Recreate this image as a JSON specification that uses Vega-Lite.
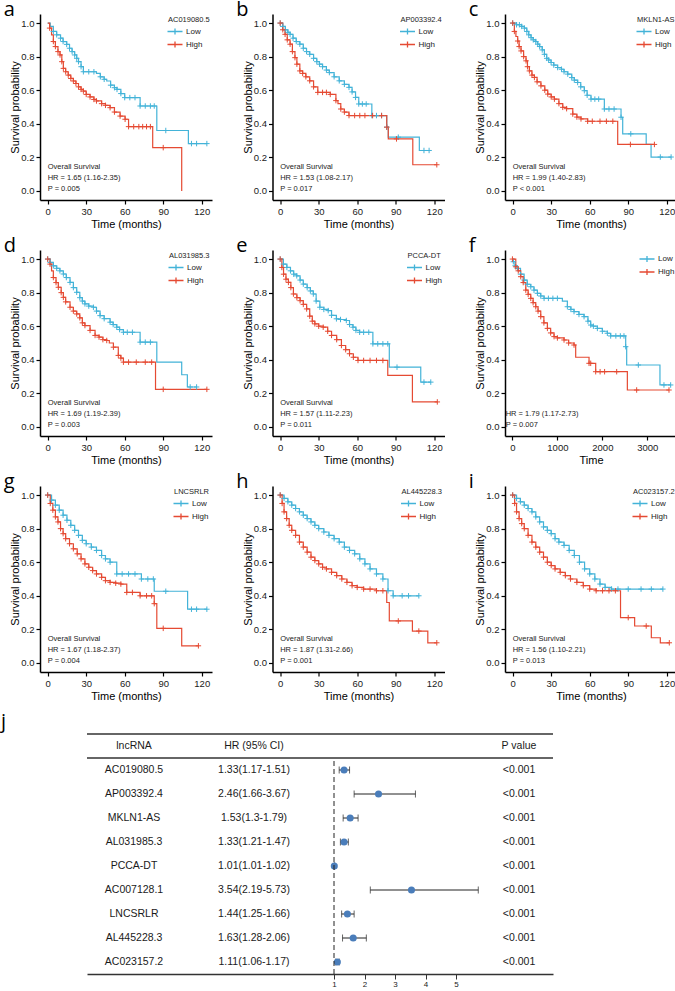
{
"$schema":"https://vega.github.io/schema/vega-lite/v6.json",
"padding":{"left":1,"top":0,"right":0,"bottom":0},
"background":"white",
"config":{
 "font":"Liberation Sans",
 "view":{"stroke":null},
 "axis":{"domainColor":"#000","domainWidth":1.5,"tickColor":"#000","tickWidth":1.2,"tickSize":4,"tickCount":12,"labelFontSize":9.5,"labelColor":"#1a1a1a","labelPadding":2,"labelOverlap":false,"titleFontSize":11,"titleFontWeight":"normal","titleColor":"#000","grid":false,"labelFont":"Liberation Sans","titleFont":"Liberation Sans"},
 "axisX":{"titlePadding":3,"labelFlush":false},
 "axisY":{"titlePadding":0},
 "legend":{"orient":"top-right","offset":2,"symbolType":"M-1.25,0H1.25M0,-0.5V0.5","symbolSize":144,"symbolStrokeWidth":1.3,"labelFontSize":8,"titleFontSize":7.5,"titleFontWeight":"normal","titleFont":"Liberation Sans","labelFont":"Liberation Sans","rowPadding":-1,"titlePadding":1,"padding":0,"labelColor":"#222","titleColor":"#222"},
 "title":{"anchor":"start","frame":"bounds","fontSize":20,"fontWeight":"normal","font":"Open Sans","offset":-6,"dx":-6,"color":"#000"}
},
"datasets":{
"notes":[
{"p":"a","note":["Overall Survival","HR = 1.65 (1.16-2.35)","P = 0.005"]},
{"p":"b","note":["Overall Survival","HR = 1.53 (1.08-2.17)","P = 0.017"]},
{"p":"c","note":["Overall Survival","HR = 1.99 (1.40-2.83)","P < 0.001"]},
{"p":"d","note":["Overall Survival","HR = 1.69 (1.19-2.39)","P = 0.003"]},
{"p":"e","note":["Overall Survival","HR = 1.57 (1.11-2.23)","P = 0.011"]},
{"p":"f","note":["HR = 1.79 (1.17-2.73)","P = 0.007"]},
{"p":"g","note":["Overall Survival","HR = 1.67 (1.18-2.37)","P = 0.004"]},
{"p":"h","note":["Overall Survival","HR = 1.87 (1.31-2.66)","P = 0.001"]},
{"p":"i","note":["Overall Survival","HR = 1.56 (1.10-2.21)","P = 0.013"]}
],
"forest":[
{"name":"header","label":"lncRNA","ci":"HR (95% CI)","pv":"P value"},
{"name":"AC019080.5","label":"AC019080.5","hr":1.33,"lo":1.17,"hi":1.51,"ci":"1.33(1.17-1.51)","pv":"<0.001"},
{"name":"AP003392.4","label":"AP003392.4","hr":2.46,"lo":1.66,"hi":3.67,"ci":"2.46(1.66-3.67)","pv":"<0.001"},
{"name":"MKLN1-AS","label":"MKLN1-AS","hr":1.53,"lo":1.3,"hi":1.79,"ci":"1.53(1.3-1.79)","pv":"<0.001"},
{"name":"AL031985.3","label":"AL031985.3","hr":1.33,"lo":1.21,"hi":1.47,"ci":"1.33(1.21-1.47)","pv":"<0.001"},
{"name":"PCCA-DT","label":"PCCA-DT","hr":1.01,"lo":1.01,"hi":1.02,"ci":"1.01(1.01-1.02)","pv":"<0.001"},
{"name":"AC007128.1","label":"AC007128.1","hr":3.54,"lo":2.19,"hi":5.73,"ci":"3.54(2.19-5.73)","pv":"<0.001"},
{"name":"LNCSRLR","label":"LNCSRLR","hr":1.44,"lo":1.25,"hi":1.66,"ci":"1.44(1.25-1.66)","pv":"<0.001"},
{"name":"AL445228.3","label":"AL445228.3","hr":1.63,"lo":1.28,"hi":2.06,"ci":"1.63(1.28-2.06)","pv":"<0.001"},
{"name":"AC023157.2","label":"AC023157.2","hr":1.11,"lo":1.06,"hi":1.17,"ci":"1.11(1.06-1.17)","pv":"<0.001"}
],
"km":[
{"p":"a","g":"Low","t":0,"s":1,"c":0},{"p":"a","g":"Low","t":2,"s":0.98,"c":0},{"p":"a","g":"Low","t":4.4,"s":0.95,"c":1},{"p":"a","g":"Low","t":7,"s":0.93,"c":1},{"p":"a","g":"Low","t":10,"s":0.91,"c":1},{"p":"a","g":"Low","t":12,"s":0.89,"c":1},{"p":"a","g":"Low","t":14.8,"s":0.873,"c":1},{"p":"a","g":"Low","t":17,"s":0.85,"c":1},{"p":"a","g":"Low","t":19,"s":0.83,"c":1},{"p":"a","g":"Low","t":21,"s":0.81,"c":1},{"p":"a","g":"Low","t":22.6,"s":0.79,"c":1},{"p":"a","g":"Low","t":24,"s":0.77,"c":1},{"p":"a","g":"Low","t":26,"s":0.74,"c":1},{"p":"a","g":"Low","t":27.8,"s":0.71,"c":1},{"p":"a","g":"Low","t":32,"s":0.71,"c":1},{"p":"a","g":"Low","t":36,"s":0.71,"c":1},{"p":"a","g":"Low","t":38,"s":0.7,"c":0},{"p":"a","g":"Low","t":41,"s":0.68,"c":1},{"p":"a","g":"Low","t":44,"s":0.665,"c":1},{"p":"a","g":"Low","t":46,"s":0.655,"c":0},{"p":"a","g":"Low","t":49,"s":0.63,"c":1},{"p":"a","g":"Low","t":52,"s":0.615,"c":1},{"p":"a","g":"Low","t":54,"s":0.605,"c":1},{"p":"a","g":"Low","t":57,"s":0.58,"c":1},{"p":"a","g":"Low","t":60,"s":0.556,"c":1},{"p":"a","g":"Low","t":64,"s":0.556,"c":1},{"p":"a","g":"Low","t":68,"s":0.556,"c":1},{"p":"a","g":"Low","t":72,"s":0.506,"c":1},{"p":"a","g":"Low","t":76,"s":0.506,"c":1},{"p":"a","g":"Low","t":80,"s":0.506,"c":1},{"p":"a","g":"Low","t":83,"s":0.506,"c":1},{"p":"a","g":"Low","t":85,"s":0.36,"c":0},{"p":"a","g":"Low","t":92,"s":0.36,"c":1},{"p":"a","g":"Low","t":109.6,"s":0.282,"c":0},{"p":"a","g":"Low","t":112,"s":0.282,"c":1},{"p":"a","g":"Low","t":116,"s":0.282,"c":1},{"p":"a","g":"Low","t":124,"s":0.282,"c":1},
{"p":"a","g":"High","t":0,"s":1,"c":0},{"p":"a","g":"High","t":1.5,"s":0.97,"c":1},{"p":"a","g":"High","t":3,"s":0.93,"c":0},{"p":"a","g":"High","t":4.4,"s":0.89,"c":1},{"p":"a","g":"High","t":6,"s":0.86,"c":1},{"p":"a","g":"High","t":8,"s":0.83,"c":1},{"p":"a","g":"High","t":9.6,"s":0.81,"c":1},{"p":"a","g":"High","t":11,"s":0.77,"c":1},{"p":"a","g":"High","t":12.2,"s":0.73,"c":1},{"p":"a","g":"High","t":14,"s":0.71,"c":1},{"p":"a","g":"High","t":16,"s":0.69,"c":1},{"p":"a","g":"High","t":18,"s":0.67,"c":1},{"p":"a","g":"High","t":20,"s":0.655,"c":1},{"p":"a","g":"High","t":22,"s":0.64,"c":1},{"p":"a","g":"High","t":24,"s":0.62,"c":1},{"p":"a","g":"High","t":26,"s":0.605,"c":1},{"p":"a","g":"High","t":27.8,"s":0.595,"c":1},{"p":"a","g":"High","t":30,"s":0.575,"c":1},{"p":"a","g":"High","t":33,"s":0.56,"c":1},{"p":"a","g":"High","t":36,"s":0.545,"c":1},{"p":"a","g":"High","t":38,"s":0.536,"c":1},{"p":"a","g":"High","t":42,"s":0.52,"c":1},{"p":"a","g":"High","t":45,"s":0.51,"c":1},{"p":"a","g":"High","t":48.6,"s":0.496,"c":1},{"p":"a","g":"High","t":52,"s":0.47,"c":1},{"p":"a","g":"High","t":56.4,"s":0.446,"c":1},{"p":"a","g":"High","t":60.3,"s":0.427,"c":1},{"p":"a","g":"High","t":63,"s":0.383,"c":1},{"p":"a","g":"High","t":67,"s":0.383,"c":1},{"p":"a","g":"High","t":71,"s":0.383,"c":1},{"p":"a","g":"High","t":74,"s":0.383,"c":1},{"p":"a","g":"High","t":77,"s":0.383,"c":1},{"p":"a","g":"High","t":80,"s":0.383,"c":1},{"p":"a","g":"High","t":81.8,"s":0.258,"c":0},{"p":"a","g":"High","t":90,"s":0.258,"c":1},{"p":"a","g":"High","t":104.4,"s":0,"c":0},
{"p":"b","g":"Low","t":0,"s":1,"c":1},{"p":"b","g":"Low","t":2,"s":0.98,"c":1},{"p":"b","g":"Low","t":4,"s":0.96,"c":1},{"p":"b","g":"Low","t":6,"s":0.945,"c":1},{"p":"b","g":"Low","t":7.7,"s":0.933,"c":1},{"p":"b","g":"Low","t":10,"s":0.91,"c":1},{"p":"b","g":"Low","t":12.5,"s":0.89,"c":1},{"p":"b","g":"Low","t":15.3,"s":0.874,"c":1},{"p":"b","g":"Low","t":18,"s":0.85,"c":1},{"p":"b","g":"Low","t":20.5,"s":0.83,"c":1},{"p":"b","g":"Low","t":23,"s":0.814,"c":1},{"p":"b","g":"Low","t":26,"s":0.79,"c":1},{"p":"b","g":"Low","t":28.5,"s":0.77,"c":1},{"p":"b","g":"Low","t":30.6,"s":0.755,"c":1},{"p":"b","g":"Low","t":33,"s":0.74,"c":1},{"p":"b","g":"Low","t":36,"s":0.72,"c":1},{"p":"b","g":"Low","t":38.3,"s":0.705,"c":1},{"p":"b","g":"Low","t":42,"s":0.68,"c":1},{"p":"b","g":"Low","t":46,"s":0.656,"c":1},{"p":"b","g":"Low","t":50,"s":0.635,"c":1},{"p":"b","g":"Low","t":53.6,"s":0.617,"c":1},{"p":"b","g":"Low","t":56,"s":0.59,"c":1},{"p":"b","g":"Low","t":58.7,"s":0.557,"c":1},{"p":"b","g":"Low","t":61.2,"s":0.518,"c":1},{"p":"b","g":"Low","t":64,"s":0.518,"c":1},{"p":"b","g":"Low","t":67,"s":0.518,"c":1},{"p":"b","g":"Low","t":71.4,"s":0.449,"c":1},{"p":"b","g":"Low","t":75,"s":0.449,"c":1},{"p":"b","g":"Low","t":79,"s":0.449,"c":1},{"p":"b","g":"Low","t":83,"s":0.38,"c":1},{"p":"b","g":"Low","t":84.2,"s":0.32,"c":0},{"p":"b","g":"Low","t":92,"s":0.32,"c":1},{"p":"b","g":"Low","t":108.4,"s":0.241,"c":0},{"p":"b","g":"Low","t":112,"s":0.241,"c":1},{"p":"b","g":"Low","t":116,"s":0.241,"c":1},
{"p":"b","g":"High","t":0,"s":1,"c":1},{"p":"b","g":"High","t":2,"s":0.96,"c":1},{"p":"b","g":"High","t":3.8,"s":0.933,"c":1},{"p":"b","g":"High","t":5.5,"s":0.9,"c":1},{"p":"b","g":"High","t":7.7,"s":0.874,"c":1},{"p":"b","g":"High","t":9.5,"s":0.83,"c":1},{"p":"b","g":"High","t":11.5,"s":0.794,"c":1},{"p":"b","g":"High","t":13,"s":0.755,"c":1},{"p":"b","g":"High","t":15.3,"s":0.715,"c":1},{"p":"b","g":"High","t":17.5,"s":0.7,"c":1},{"p":"b","g":"High","t":20,"s":0.68,"c":1},{"p":"b","g":"High","t":23,"s":0.656,"c":1},{"p":"b","g":"High","t":26,"s":0.62,"c":1},{"p":"b","g":"High","t":29.3,"s":0.587,"c":1},{"p":"b","g":"High","t":33,"s":0.587,"c":1},{"p":"b","g":"High","t":36,"s":0.587,"c":1},{"p":"b","g":"High","t":39,"s":0.575,"c":1},{"p":"b","g":"High","t":43.4,"s":0.538,"c":1},{"p":"b","g":"High","t":45,"s":0.52,"c":0},{"p":"b","g":"High","t":47.2,"s":0.488,"c":1},{"p":"b","g":"High","t":50,"s":0.47,"c":1},{"p":"b","g":"High","t":53.6,"s":0.449,"c":1},{"p":"b","g":"High","t":58,"s":0.449,"c":1},{"p":"b","g":"High","t":62,"s":0.449,"c":1},{"p":"b","g":"High","t":66,"s":0.449,"c":1},{"p":"b","g":"High","t":72,"s":0.449,"c":1},{"p":"b","g":"High","t":79,"s":0.449,"c":1},{"p":"b","g":"High","t":83,"s":0.38,"c":1},{"p":"b","g":"High","t":84.2,"s":0.31,"c":0},{"p":"b","g":"High","t":90.6,"s":0.31,"c":1},{"p":"b","g":"High","t":103.3,"s":0.156,"c":0},{"p":"b","g":"High","t":122,"s":0.156,"c":1},
{"p":"c","g":"Low","t":0,"s":1,"c":1},{"p":"c","g":"Low","t":3,"s":0.99,"c":1},{"p":"c","g":"Low","t":5.2,"s":0.99,"c":1},{"p":"c","g":"Low","t":7,"s":0.98,"c":1},{"p":"c","g":"Low","t":9.1,"s":0.97,"c":1},{"p":"c","g":"Low","t":11,"s":0.95,"c":1},{"p":"c","g":"Low","t":12.5,"s":0.93,"c":1},{"p":"c","g":"Low","t":14.3,"s":0.913,"c":1},{"p":"c","g":"Low","t":16,"s":0.9,"c":1},{"p":"c","g":"Low","t":18,"s":0.89,"c":1},{"p":"c","g":"Low","t":19.5,"s":0.874,"c":1},{"p":"c","g":"Low","t":21,"s":0.86,"c":1},{"p":"c","g":"Low","t":23,"s":0.84,"c":1},{"p":"c","g":"Low","t":24.7,"s":0.814,"c":1},{"p":"c","g":"Low","t":26.5,"s":0.79,"c":1},{"p":"c","g":"Low","t":28,"s":0.78,"c":1},{"p":"c","g":"Low","t":29.9,"s":0.765,"c":1},{"p":"c","g":"Low","t":32,"s":0.75,"c":1},{"p":"c","g":"Low","t":35,"s":0.735,"c":1},{"p":"c","g":"Low","t":38,"s":0.725,"c":1},{"p":"c","g":"Low","t":40,"s":0.71,"c":1},{"p":"c","g":"Low","t":42.9,"s":0.696,"c":1},{"p":"c","g":"Low","t":46,"s":0.675,"c":1},{"p":"c","g":"Low","t":48,"s":0.66,"c":1},{"p":"c","g":"Low","t":50.6,"s":0.646,"c":1},{"p":"c","g":"Low","t":53,"s":0.62,"c":1},{"p":"c","g":"Low","t":55.8,"s":0.597,"c":1},{"p":"c","g":"Low","t":58,"s":0.57,"c":1},{"p":"c","g":"Low","t":61,"s":0.547,"c":1},{"p":"c","g":"Low","t":64,"s":0.547,"c":1},{"p":"c","g":"Low","t":67,"s":0.547,"c":1},{"p":"c","g":"Low","t":71.4,"s":0.488,"c":1},{"p":"c","g":"Low","t":75,"s":0.488,"c":1},{"p":"c","g":"Low","t":79,"s":0.488,"c":1},{"p":"c","g":"Low","t":84.4,"s":0.439,"c":1},{"p":"c","g":"Low","t":85.7,"s":0.34,"c":0},{"p":"c","g":"Low","t":92,"s":0.34,"c":1},{"p":"c","g":"Low","t":104,"s":0.277,"c":0},{"p":"c","g":"Low","t":107.8,"s":0.202,"c":0},{"p":"c","g":"Low","t":115,"s":0.202,"c":1},{"p":"c","g":"Low","t":123.4,"s":0.202,"c":1},
{"p":"c","g":"High","t":0,"s":1,"c":1},{"p":"c","g":"High","t":1.3,"s":0.95,"c":1},{"p":"c","g":"High","t":2.5,"s":0.92,"c":0},{"p":"c","g":"High","t":3.9,"s":0.893,"c":1},{"p":"c","g":"High","t":5,"s":0.86,"c":1},{"p":"c","g":"High","t":6.5,"s":0.834,"c":1},{"p":"c","g":"High","t":8.5,"s":0.8,"c":1},{"p":"c","g":"High","t":10.4,"s":0.775,"c":1},{"p":"c","g":"High","t":11.5,"s":0.74,"c":1},{"p":"c","g":"High","t":13,"s":0.715,"c":1},{"p":"c","g":"High","t":15,"s":0.69,"c":1},{"p":"c","g":"High","t":16.9,"s":0.676,"c":1},{"p":"c","g":"High","t":19,"s":0.65,"c":1},{"p":"c","g":"High","t":22,"s":0.626,"c":1},{"p":"c","g":"High","t":25,"s":0.6,"c":1},{"p":"c","g":"High","t":27.3,"s":0.577,"c":1},{"p":"c","g":"High","t":30,"s":0.56,"c":1},{"p":"c","g":"High","t":32.5,"s":0.547,"c":1},{"p":"c","g":"High","t":36,"s":0.52,"c":1},{"p":"c","g":"High","t":39,"s":0.498,"c":1},{"p":"c","g":"High","t":42,"s":0.49,"c":1},{"p":"c","g":"High","t":46.8,"s":0.458,"c":1},{"p":"c","g":"High","t":50,"s":0.44,"c":1},{"p":"c","g":"High","t":53.2,"s":0.429,"c":1},{"p":"c","g":"High","t":58.4,"s":0.415,"c":1},{"p":"c","g":"High","t":62,"s":0.415,"c":1},{"p":"c","g":"High","t":68,"s":0.415,"c":1},{"p":"c","g":"High","t":73,"s":0.415,"c":1},{"p":"c","g":"High","t":78,"s":0.415,"c":1},{"p":"c","g":"High","t":81.8,"s":0.277,"c":0},{"p":"c","g":"High","t":91.7,"s":0.277,"c":1},{"p":"c","g":"High","t":110.4,"s":0.277,"c":1},
{"p":"d","g":"Low","t":0,"s":1,"c":1},{"p":"d","g":"Low","t":2,"s":0.98,"c":1},{"p":"d","g":"Low","t":4.4,"s":0.96,"c":1},{"p":"d","g":"Low","t":7,"s":0.945,"c":1},{"p":"d","g":"Low","t":9.5,"s":0.93,"c":1},{"p":"d","g":"Low","t":12.2,"s":0.911,"c":1},{"p":"d","g":"Low","t":14.5,"s":0.89,"c":1},{"p":"d","g":"Low","t":17.4,"s":0.861,"c":1},{"p":"d","g":"Low","t":20,"s":0.83,"c":1},{"p":"d","g":"Low","t":22.6,"s":0.802,"c":1},{"p":"d","g":"Low","t":25,"s":0.77,"c":1},{"p":"d","g":"Low","t":27,"s":0.75,"c":1},{"p":"d","g":"Low","t":29,"s":0.733,"c":1},{"p":"d","g":"Low","t":32,"s":0.72,"c":1},{"p":"d","g":"Low","t":35.6,"s":0.713,"c":1},{"p":"d","g":"Low","t":38,"s":0.69,"c":1},{"p":"d","g":"Low","t":40.8,"s":0.663,"c":1},{"p":"d","g":"Low","t":44,"s":0.645,"c":1},{"p":"d","g":"Low","t":48.6,"s":0.624,"c":1},{"p":"d","g":"Low","t":51,"s":0.61,"c":1},{"p":"d","g":"Low","t":53.8,"s":0.594,"c":1},{"p":"d","g":"Low","t":56,"s":0.58,"c":1},{"p":"d","g":"Low","t":59,"s":0.564,"c":1},{"p":"d","g":"Low","t":62,"s":0.564,"c":1},{"p":"d","g":"Low","t":66,"s":0.564,"c":1},{"p":"d","g":"Low","t":72,"s":0.505,"c":1},{"p":"d","g":"Low","t":76,"s":0.505,"c":1},{"p":"d","g":"Low","t":80,"s":0.505,"c":1},{"p":"d","g":"Low","t":85,"s":0.386,"c":0},{"p":"d","g":"Low","t":104.4,"s":0.311,"c":0},{"p":"d","g":"Low","t":108.8,"s":0.238,"c":0},{"p":"d","g":"Low","t":111,"s":0.238,"c":1},{"p":"d","g":"Low","t":116,"s":0.238,"c":1},
{"p":"d","g":"High","t":0,"s":1,"c":1},{"p":"d","g":"High","t":1.8,"s":0.97,"c":1},{"p":"d","g":"High","t":3,"s":0.93,"c":0},{"p":"d","g":"High","t":4.4,"s":0.89,"c":1},{"p":"d","g":"High","t":6.5,"s":0.86,"c":1},{"p":"d","g":"High","t":8.3,"s":0.832,"c":1},{"p":"d","g":"High","t":10.5,"s":0.8,"c":1},{"p":"d","g":"High","t":12.2,"s":0.772,"c":1},{"p":"d","g":"High","t":14,"s":0.745,"c":1},{"p":"d","g":"High","t":17.4,"s":0.713,"c":1},{"p":"d","g":"High","t":20,"s":0.69,"c":1},{"p":"d","g":"High","t":22.6,"s":0.673,"c":1},{"p":"d","g":"High","t":25,"s":0.65,"c":1},{"p":"d","g":"High","t":27,"s":0.62,"c":1},{"p":"d","g":"High","t":29,"s":0.604,"c":1},{"p":"d","g":"High","t":33,"s":0.575,"c":1},{"p":"d","g":"High","t":36.9,"s":0.545,"c":1},{"p":"d","g":"High","t":40,"s":0.535,"c":1},{"p":"d","g":"High","t":43,"s":0.52,"c":1},{"p":"d","g":"High","t":46,"s":0.515,"c":1},{"p":"d","g":"High","t":48,"s":0.5,"c":0},{"p":"d","g":"High","t":51.2,"s":0.475,"c":1},{"p":"d","g":"High","t":55,"s":0.426,"c":1},{"p":"d","g":"High","t":57,"s":0.41,"c":1},{"p":"d","g":"High","t":59,"s":0.386,"c":1},{"p":"d","g":"High","t":63,"s":0.386,"c":1},{"p":"d","g":"High","t":69,"s":0.386,"c":1},{"p":"d","g":"High","t":76,"s":0.386,"c":1},{"p":"d","g":"High","t":81,"s":0.386,"c":1},{"p":"d","g":"High","t":84,"s":0.224,"c":0},{"p":"d","g":"High","t":90,"s":0.224,"c":1},{"p":"d","g":"High","t":124,"s":0.224,"c":1},
{"p":"e","g":"Low","t":0,"s":1,"c":1},{"p":"e","g":"Low","t":2.5,"s":0.97,"c":1},{"p":"e","g":"Low","t":5.2,"s":0.95,"c":1},{"p":"e","g":"Low","t":8,"s":0.93,"c":1},{"p":"e","g":"Low","t":10.5,"s":0.91,"c":1},{"p":"e","g":"Low","t":12.9,"s":0.9,"c":1},{"p":"e","g":"Low","t":15.5,"s":0.875,"c":1},{"p":"e","g":"Low","t":18,"s":0.851,"c":1},{"p":"e","g":"Low","t":21,"s":0.83,"c":1},{"p":"e","g":"Low","t":23.5,"s":0.81,"c":1},{"p":"e","g":"Low","t":25.8,"s":0.792,"c":1},{"p":"e","g":"Low","t":28,"s":0.75,"c":1},{"p":"e","g":"Low","t":30.9,"s":0.713,"c":1},{"p":"e","g":"Low","t":34,"s":0.7,"c":1},{"p":"e","g":"Low","t":37.4,"s":0.693,"c":1},{"p":"e","g":"Low","t":40,"s":0.665,"c":1},{"p":"e","g":"Low","t":43.8,"s":0.644,"c":1},{"p":"e","g":"Low","t":47,"s":0.64,"c":1},{"p":"e","g":"Low","t":51.5,"s":0.634,"c":1},{"p":"e","g":"Low","t":54,"s":0.61,"c":1},{"p":"e","g":"Low","t":56.7,"s":0.594,"c":1},{"p":"e","g":"Low","t":59,"s":0.575,"c":1},{"p":"e","g":"Low","t":61.9,"s":0.564,"c":1},{"p":"e","g":"Low","t":65,"s":0.564,"c":1},{"p":"e","g":"Low","t":69,"s":0.564,"c":1},{"p":"e","g":"Low","t":72.2,"s":0.495,"c":1},{"p":"e","g":"Low","t":76,"s":0.495,"c":1},{"p":"e","g":"Low","t":80,"s":0.495,"c":1},{"p":"e","g":"Low","t":83.8,"s":0.495,"c":1},{"p":"e","g":"Low","t":85,"s":0.356,"c":0},{"p":"e","g":"Low","t":91,"s":0.356,"c":1},{"p":"e","g":"Low","t":109.5,"s":0.267,"c":0},{"p":"e","g":"Low","t":112,"s":0.267,"c":1},{"p":"e","g":"Low","t":117.3,"s":0.267,"c":1},
{"p":"e","g":"High","t":0,"s":1,"c":1},{"p":"e","g":"High","t":1.3,"s":0.95,"c":1},{"p":"e","g":"High","t":2.6,"s":0.91,"c":1},{"p":"e","g":"High","t":4.5,"s":0.88,"c":1},{"p":"e","g":"High","t":6.4,"s":0.861,"c":1},{"p":"e","g":"High","t":8.3,"s":0.83,"c":1},{"p":"e","g":"High","t":10.3,"s":0.792,"c":1},{"p":"e","g":"High","t":13,"s":0.77,"c":1},{"p":"e","g":"High","t":15.5,"s":0.752,"c":1},{"p":"e","g":"High","t":18,"s":0.73,"c":1},{"p":"e","g":"High","t":20.6,"s":0.703,"c":1},{"p":"e","g":"High","t":23,"s":0.66,"c":1},{"p":"e","g":"High","t":25,"s":0.63,"c":1},{"p":"e","g":"High","t":27,"s":0.614,"c":1},{"p":"e","g":"High","t":30,"s":0.6,"c":1},{"p":"e","g":"High","t":33.5,"s":0.594,"c":1},{"p":"e","g":"High","t":37,"s":0.57,"c":1},{"p":"e","g":"High","t":40,"s":0.545,"c":1},{"p":"e","g":"High","t":44,"s":0.52,"c":1},{"p":"e","g":"High","t":47.7,"s":0.485,"c":1},{"p":"e","g":"High","t":51,"s":0.46,"c":1},{"p":"e","g":"High","t":54,"s":0.436,"c":1},{"p":"e","g":"High","t":57,"s":0.415,"c":1},{"p":"e","g":"High","t":60.6,"s":0.396,"c":1},{"p":"e","g":"High","t":65,"s":0.396,"c":1},{"p":"e","g":"High","t":70,"s":0.396,"c":1},{"p":"e","g":"High","t":75,"s":0.396,"c":1},{"p":"e","g":"High","t":80,"s":0.396,"c":1},{"p":"e","g":"High","t":83.8,"s":0.307,"c":0},{"p":"e","g":"High","t":103,"s":0.149,"c":0},{"p":"e","g":"High","t":122.4,"s":0.149,"c":1},
{"p":"f","g":"Low","t":0,"s":1,"c":0},{"p":"f","g":"Low","t":20,"s":0.984,"c":1},{"p":"f","g":"Low","t":60,"s":0.96,"c":1},{"p":"f","g":"Low","t":112,"s":0.944,"c":1},{"p":"f","g":"Low","t":180,"s":0.91,"c":1},{"p":"f","g":"Low","t":260,"s":0.875,"c":1},{"p":"f","g":"Low","t":330,"s":0.85,"c":1},{"p":"f","g":"Low","t":408,"s":0.835,"c":1},{"p":"f","g":"Low","t":480,"s":0.815,"c":1},{"p":"f","g":"Low","t":556,"s":0.796,"c":1},{"p":"f","g":"Low","t":630,"s":0.78,"c":1},{"p":"f","g":"Low","t":704,"s":0.766,"c":1},{"p":"f","g":"Low","t":800,"s":0.766,"c":1},{"p":"f","g":"Low","t":900,"s":0.766,"c":1},{"p":"f","g":"Low","t":1000,"s":0.766,"c":1},{"p":"f","g":"Low","t":1111,"s":0.75,"c":0},{"p":"f","g":"Low","t":1222,"s":0.716,"c":1},{"p":"f","g":"Low","t":1300,"s":0.7,"c":1},{"p":"f","g":"Low","t":1370,"s":0.687,"c":1},{"p":"f","g":"Low","t":1480,"s":0.67,"c":1},{"p":"f","g":"Low","t":1593,"s":0.657,"c":1},{"p":"f","g":"Low","t":1680,"s":0.63,"c":1},{"p":"f","g":"Low","t":1741,"s":0.607,"c":1},{"p":"f","g":"Low","t":1800,"s":0.6,"c":1},{"p":"f","g":"Low","t":1889,"s":0.587,"c":1},{"p":"f","g":"Low","t":2000,"s":0.57,"c":1},{"p":"f","g":"Low","t":2111,"s":0.558,"c":1},{"p":"f","g":"Low","t":2185,"s":0.542,"c":1},{"p":"f","g":"Low","t":2300,"s":0.542,"c":1},{"p":"f","g":"Low","t":2400,"s":0.542,"c":1},{"p":"f","g":"Low","t":2481,"s":0.542,"c":1},{"p":"f","g":"Low","t":2519,"s":0.478,"c":1},{"p":"f","g":"Low","t":2541,"s":0.369,"c":0},{"p":"f","g":"Low","t":2800,"s":0.369,"c":1},{"p":"f","g":"Low","t":3281,"s":0.25,"c":0},{"p":"f","g":"Low","t":3370,"s":0.25,"c":1},{"p":"f","g":"Low","t":3519,"s":0.25,"c":1},
{"p":"f","g":"High","t":0,"s":1,"c":1},{"p":"f","g":"High","t":75,"s":0.954,"c":1},{"p":"f","g":"High","t":130,"s":0.93,"c":1},{"p":"f","g":"High","t":185,"s":0.895,"c":1},{"p":"f","g":"High","t":240,"s":0.86,"c":1},{"p":"f","g":"High","t":297,"s":0.815,"c":1},{"p":"f","g":"High","t":350,"s":0.79,"c":1},{"p":"f","g":"High","t":408,"s":0.766,"c":1},{"p":"f","g":"High","t":460,"s":0.74,"c":1},{"p":"f","g":"High","t":519,"s":0.716,"c":1},{"p":"f","g":"High","t":570,"s":0.69,"c":1},{"p":"f","g":"High","t":630,"s":0.657,"c":1},{"p":"f","g":"High","t":700,"s":0.62,"c":1},{"p":"f","g":"High","t":778,"s":0.587,"c":1},{"p":"f","g":"High","t":850,"s":0.56,"c":1},{"p":"f","g":"High","t":926,"s":0.538,"c":1},{"p":"f","g":"High","t":1000,"s":0.53,"c":1},{"p":"f","g":"High","t":1148,"s":0.518,"c":1},{"p":"f","g":"High","t":1250,"s":0.5,"c":1},{"p":"f","g":"High","t":1370,"s":0.488,"c":1},{"p":"f","g":"High","t":1407,"s":0.415,"c":0},{"p":"f","g":"High","t":1704,"s":0.379,"c":1},{"p":"f","g":"High","t":1741,"s":0.379,"c":1},{"p":"f","g":"High","t":1852,"s":0.329,"c":1},{"p":"f","g":"High","t":1950,"s":0.329,"c":1},{"p":"f","g":"High","t":2050,"s":0.329,"c":1},{"p":"f","g":"High","t":2319,"s":0.329,"c":1},{"p":"f","g":"High","t":2556,"s":0.22,"c":0},{"p":"f","g":"High","t":2763,"s":0.22,"c":1},{"p":"f","g":"High","t":3482,"s":0.22,"c":1},
{"p":"g","g":"Low","t":0,"s":1,"c":1},{"p":"g","g":"Low","t":3,"s":0.97,"c":1},{"p":"g","g":"Low","t":6,"s":0.94,"c":1},{"p":"g","g":"Low","t":9,"s":0.91,"c":1},{"p":"g","g":"Low","t":12,"s":0.88,"c":1},{"p":"g","g":"Low","t":15,"s":0.85,"c":1},{"p":"g","g":"Low","t":18,"s":0.82,"c":1},{"p":"g","g":"Low","t":21,"s":0.79,"c":1},{"p":"g","g":"Low","t":24,"s":0.76,"c":1},{"p":"g","g":"Low","t":27,"s":0.73,"c":1},{"p":"g","g":"Low","t":30,"s":0.71,"c":1},{"p":"g","g":"Low","t":34,"s":0.69,"c":1},{"p":"g","g":"Low","t":38,"s":0.67,"c":1},{"p":"g","g":"Low","t":42,"s":0.64,"c":1},{"p":"g","g":"Low","t":45,"s":0.62,"c":1},{"p":"g","g":"Low","t":48.6,"s":0.6,"c":1},{"p":"g","g":"Low","t":53.8,"s":0.53,"c":1},{"p":"g","g":"Low","t":58,"s":0.53,"c":1},{"p":"g","g":"Low","t":63,"s":0.53,"c":1},{"p":"g","g":"Low","t":68,"s":0.53,"c":1},{"p":"g","g":"Low","t":73,"s":0.5,"c":1},{"p":"g","g":"Low","t":78,"s":0.5,"c":1},{"p":"g","g":"Low","t":82.3,"s":0.5,"c":1},{"p":"g","g":"Low","t":83,"s":0.427,"c":0},{"p":"g","g":"Low","t":92,"s":0.427,"c":1},{"p":"g","g":"Low","t":109,"s":0.32,"c":0},{"p":"g","g":"Low","t":112,"s":0.32,"c":1},{"p":"g","g":"Low","t":116,"s":0.32,"c":1},{"p":"g","g":"Low","t":124,"s":0.32,"c":1},
{"p":"g","g":"High","t":0,"s":1,"c":1},{"p":"g","g":"High","t":2,"s":0.95,"c":1},{"p":"g","g":"High","t":4,"s":0.91,"c":1},{"p":"g","g":"High","t":6,"s":0.87,"c":1},{"p":"g","g":"High","t":8,"s":0.84,"c":1},{"p":"g","g":"High","t":10,"s":0.8,"c":1},{"p":"g","g":"High","t":12,"s":0.77,"c":1},{"p":"g","g":"High","t":14,"s":0.74,"c":1},{"p":"g","g":"High","t":17,"s":0.71,"c":1},{"p":"g","g":"High","t":20,"s":0.68,"c":1},{"p":"g","g":"High","t":23,"s":0.65,"c":1},{"p":"g","g":"High","t":26,"s":0.62,"c":1},{"p":"g","g":"High","t":29,"s":0.59,"c":1},{"p":"g","g":"High","t":32,"s":0.57,"c":1},{"p":"g","g":"High","t":35,"s":0.55,"c":1},{"p":"g","g":"High","t":38,"s":0.53,"c":1},{"p":"g","g":"High","t":42,"s":0.51,"c":1},{"p":"g","g":"High","t":45,"s":0.49,"c":1},{"p":"g","g":"High","t":48.6,"s":0.48,"c":1},{"p":"g","g":"High","t":53,"s":0.475,"c":1},{"p":"g","g":"High","t":57,"s":0.47,"c":1},{"p":"g","g":"High","t":61.6,"s":0.42,"c":1},{"p":"g","g":"High","t":66,"s":0.42,"c":1},{"p":"g","g":"High","t":72,"s":0.4,"c":1},{"p":"g","g":"High","t":77,"s":0.4,"c":1},{"p":"g","g":"High","t":81,"s":0.4,"c":1},{"p":"g","g":"High","t":83,"s":0.353,"c":1},{"p":"g","g":"High","t":85,"s":0.206,"c":0},{"p":"g","g":"High","t":90,"s":0.206,"c":1},{"p":"g","g":"High","t":104.4,"s":0.102,"c":0},{"p":"g","g":"High","t":117.4,"s":0.102,"c":1},
{"p":"h","g":"Low","t":0,"s":1,"c":1},{"p":"h","g":"Low","t":3,"s":0.98,"c":1},{"p":"h","g":"Low","t":6,"s":0.96,"c":1},{"p":"h","g":"Low","t":9,"s":0.94,"c":1},{"p":"h","g":"Low","t":12,"s":0.92,"c":1},{"p":"h","g":"Low","t":15,"s":0.9,"c":1},{"p":"h","g":"Low","t":18,"s":0.88,"c":1},{"p":"h","g":"Low","t":21,"s":0.86,"c":1},{"p":"h","g":"Low","t":24,"s":0.84,"c":1},{"p":"h","g":"Low","t":27,"s":0.82,"c":1},{"p":"h","g":"Low","t":30,"s":0.8,"c":1},{"p":"h","g":"Low","t":34,"s":0.78,"c":1},{"p":"h","g":"Low","t":38,"s":0.76,"c":1},{"p":"h","g":"Low","t":42,"s":0.74,"c":1},{"p":"h","g":"Low","t":46,"s":0.72,"c":1},{"p":"h","g":"Low","t":50,"s":0.69,"c":1},{"p":"h","g":"Low","t":54,"s":0.67,"c":1},{"p":"h","g":"Low","t":58,"s":0.65,"c":1},{"p":"h","g":"Low","t":62,"s":0.62,"c":1},{"p":"h","g":"Low","t":66,"s":0.59,"c":1},{"p":"h","g":"Low","t":70,"s":0.56,"c":1},{"p":"h","g":"Low","t":75,"s":0.53,"c":1},{"p":"h","g":"Low","t":80,"s":0.5,"c":1},{"p":"h","g":"Low","t":84,"s":0.43,"c":1},{"p":"h","g":"Low","t":88,"s":0.4,"c":1},{"p":"h","g":"Low","t":95,"s":0.4,"c":1},{"p":"h","g":"Low","t":100,"s":0.4,"c":1},{"p":"h","g":"Low","t":108,"s":0.4,"c":1},
{"p":"h","g":"High","t":0,"s":1,"c":1},{"p":"h","g":"High","t":1.5,"s":0.95,"c":1},{"p":"h","g":"High","t":3,"s":0.9,"c":1},{"p":"h","g":"High","t":5,"s":0.86,"c":1},{"p":"h","g":"High","t":7,"s":0.82,"c":1},{"p":"h","g":"High","t":9,"s":0.79,"c":1},{"p":"h","g":"High","t":12,"s":0.76,"c":1},{"p":"h","g":"High","t":15,"s":0.72,"c":1},{"p":"h","g":"High","t":18,"s":0.69,"c":1},{"p":"h","g":"High","t":21,"s":0.66,"c":1},{"p":"h","g":"High","t":24,"s":0.63,"c":1},{"p":"h","g":"High","t":27,"s":0.61,"c":1},{"p":"h","g":"High","t":30,"s":0.59,"c":1},{"p":"h","g":"High","t":33,"s":0.57,"c":1},{"p":"h","g":"High","t":36,"s":0.56,"c":1},{"p":"h","g":"High","t":40,"s":0.54,"c":1},{"p":"h","g":"High","t":44,"s":0.52,"c":1},{"p":"h","g":"High","t":48,"s":0.5,"c":1},{"p":"h","g":"High","t":52,"s":0.48,"c":1},{"p":"h","g":"High","t":56,"s":0.46,"c":1},{"p":"h","g":"High","t":60,"s":0.45,"c":1},{"p":"h","g":"High","t":65,"s":0.44,"c":1},{"p":"h","g":"High","t":70,"s":0.44,"c":1},{"p":"h","g":"High","t":75,"s":0.43,"c":1},{"p":"h","g":"High","t":80,"s":0.43,"c":1},{"p":"h","g":"High","t":83,"s":0.36,"c":0},{"p":"h","g":"High","t":85,"s":0.25,"c":0},{"p":"h","g":"High","t":92,"s":0.25,"c":1},{"p":"h","g":"High","t":103,"s":0.19,"c":0},{"p":"h","g":"High","t":108,"s":0.19,"c":1},{"p":"h","g":"High","t":115,"s":0.12,"c":0},{"p":"h","g":"High","t":122,"s":0.12,"c":1},
{"p":"i","g":"Low","t":0,"s":1,"c":1},{"p":"i","g":"Low","t":3,"s":0.98,"c":1},{"p":"i","g":"Low","t":6,"s":0.96,"c":1},{"p":"i","g":"Low","t":9,"s":0.94,"c":1},{"p":"i","g":"Low","t":12,"s":0.92,"c":1},{"p":"i","g":"Low","t":15,"s":0.9,"c":1},{"p":"i","g":"Low","t":18,"s":0.87,"c":1},{"p":"i","g":"Low","t":21,"s":0.84,"c":1},{"p":"i","g":"Low","t":24,"s":0.81,"c":1},{"p":"i","g":"Low","t":27,"s":0.79,"c":1},{"p":"i","g":"Low","t":30,"s":0.77,"c":1},{"p":"i","g":"Low","t":33,"s":0.74,"c":1},{"p":"i","g":"Low","t":36,"s":0.72,"c":1},{"p":"i","g":"Low","t":40,"s":0.7,"c":1},{"p":"i","g":"Low","t":44,"s":0.67,"c":1},{"p":"i","g":"Low","t":48,"s":0.64,"c":1},{"p":"i","g":"Low","t":52,"s":0.6,"c":1},{"p":"i","g":"Low","t":56,"s":0.56,"c":1},{"p":"i","g":"Low","t":60,"s":0.53,"c":1},{"p":"i","g":"Low","t":64,"s":0.5,"c":1},{"p":"i","g":"Low","t":68,"s":0.47,"c":1},{"p":"i","g":"Low","t":72,"s":0.45,"c":1},{"p":"i","g":"Low","t":77,"s":0.44,"c":1},{"p":"i","g":"Low","t":82,"s":0.44,"c":1},{"p":"i","g":"Low","t":90,"s":0.44,"c":1},{"p":"i","g":"Low","t":100,"s":0.44,"c":1},{"p":"i","g":"Low","t":108,"s":0.44,"c":1},{"p":"i","g":"Low","t":117,"s":0.44,"c":1},
{"p":"i","g":"High","t":0,"s":1,"c":1},{"p":"i","g":"High","t":1.5,"s":0.95,"c":1},{"p":"i","g":"High","t":3,"s":0.9,"c":1},{"p":"i","g":"High","t":5,"s":0.86,"c":1},{"p":"i","g":"High","t":7,"s":0.83,"c":1},{"p":"i","g":"High","t":9,"s":0.8,"c":1},{"p":"i","g":"High","t":12,"s":0.76,"c":1},{"p":"i","g":"High","t":15,"s":0.72,"c":1},{"p":"i","g":"High","t":18,"s":0.69,"c":1},{"p":"i","g":"High","t":21,"s":0.66,"c":1},{"p":"i","g":"High","t":24,"s":0.63,"c":1},{"p":"i","g":"High","t":27,"s":0.6,"c":1},{"p":"i","g":"High","t":30,"s":0.58,"c":1},{"p":"i","g":"High","t":33,"s":0.56,"c":1},{"p":"i","g":"High","t":37,"s":0.54,"c":1},{"p":"i","g":"High","t":41,"s":0.52,"c":1},{"p":"i","g":"High","t":45,"s":0.5,"c":1},{"p":"i","g":"High","t":50,"s":0.48,"c":1},{"p":"i","g":"High","t":55,"s":0.46,"c":1},{"p":"i","g":"High","t":60,"s":0.44,"c":1},{"p":"i","g":"High","t":65,"s":0.43,"c":1},{"p":"i","g":"High","t":70,"s":0.43,"c":1},{"p":"i","g":"High","t":75,"s":0.43,"c":1},{"p":"i","g":"High","t":80,"s":0.43,"c":1},{"p":"i","g":"High","t":84,"s":0.27,"c":0},{"p":"i","g":"High","t":90,"s":0.27,"c":1},{"p":"i","g":"High","t":95,"s":0.22,"c":0},{"p":"i","g":"High","t":104,"s":0.22,"c":1},{"p":"i","g":"High","t":108,"s":0.15,"c":0},{"p":"i","g":"High","t":115,"s":0.12,"c":0},{"p":"i","g":"High","t":122,"s":0.12,"c":1}
]
},
"spacing":10,
"resolve":{"scale":{"x":"independent","y":"independent","color":"independent"},"legend":{"color":"independent"}},
"vconcat":[
{"spacing":6,
 "resolve":{"scale":{"x":"independent","y":"independent","color":"independent"},"legend":{"color":"independent"}},
 "vconcat":[
{"hconcat":[
 {"width":172,"height":186,"title":"a","data":{"name":"km"},"transform":[{"filter":"datum.p==='a'"}],"layer":[
  {"mark":{"type":"line","interpolate":"step-after","strokeWidth":1.2},"encoding":{"x":{"field":"t","type":"quantitative","scale":{"domain":[-6,128],"nice":false,"zero":false},"axis":{"values":[0,30,60,90,120],"title":"Time (months)"}},"y":{"field":"s","type":"quantitative","scale":{"domain":[-0.054,1.054],"nice":false,"zero":false},"axis":{"values":[0,0.2,0.4,0.6,0.8,1],"tickCount":12,"format":".1f","title":"Survival probability"}},"color":{"field":"g","type":"nominal","scale":{"domain":["Low","High"],"range":["#43b3d8","#e54a33"]},"legend":{"title":"AC019080.5"}}}},
  {"transform":[{"filter":"datum.c===1"}],"mark":{"type":"point","shape":"M-1,0H1M0,-1V1","filled":false,"size":30,"strokeWidth":1,"opacity":1},"encoding":{"x":{"field":"t","type":"quantitative"},"y":{"field":"s","type":"quantitative"},"color":{"field":"g","type":"nominal"}}},
  {"data":{"name":"notes"},"transform":[{"filter":"datum.p==='a'"}],"mark":{"type":"text","align":"left","baseline":"alphabetic","fontSize":7.5,"lineHeight":11,"color":"#222"},"encoding":{"x":{"datum":0,"type":"quantitative"},"y":{"datum":0.131,"type":"quantitative"},"text":{"field":"note"}}}
 ]},
 {"width":172,"height":186,"title":"b","data":{"name":"km"},"transform":[{"filter":"datum.p==='b'"}],"layer":[
  {"mark":{"type":"line","interpolate":"step-after","strokeWidth":1.2},"encoding":{"x":{"field":"t","type":"quantitative","scale":{"domain":[-6,128],"nice":false,"zero":false},"axis":{"values":[0,30,60,90,120],"title":"Time (months)"}},"y":{"field":"s","type":"quantitative","scale":{"domain":[-0.054,1.054],"nice":false,"zero":false},"axis":{"values":[0,0.2,0.4,0.6,0.8,1],"tickCount":12,"format":".1f","title":"Survival probability"}},"color":{"field":"g","type":"nominal","scale":{"domain":["Low","High"],"range":["#43b3d8","#e54a33"]},"legend":{"title":"AP003392.4"}}}},
  {"transform":[{"filter":"datum.c===1"}],"mark":{"type":"point","shape":"M-1,0H1M0,-1V1","filled":false,"size":30,"strokeWidth":1,"opacity":1},"encoding":{"x":{"field":"t","type":"quantitative"},"y":{"field":"s","type":"quantitative"},"color":{"field":"g","type":"nominal"}}},
  {"data":{"name":"notes"},"transform":[{"filter":"datum.p==='b'"}],"mark":{"type":"text","align":"left","baseline":"alphabetic","fontSize":7.5,"lineHeight":11,"color":"#222"},"encoding":{"x":{"datum":0,"type":"quantitative"},"y":{"datum":0.131,"type":"quantitative"},"text":{"field":"note"}}}
 ]},
 {"width":172,"height":186,"title":"c","data":{"name":"km"},"transform":[{"filter":"datum.p==='c'"}],"layer":[
  {"mark":{"type":"line","interpolate":"step-after","strokeWidth":1.2},"encoding":{"x":{"field":"t","type":"quantitative","scale":{"domain":[-6,128],"nice":false,"zero":false},"axis":{"values":[0,30,60,90,120],"title":"Time (months)"}},"y":{"field":"s","type":"quantitative","scale":{"domain":[-0.054,1.054],"nice":false,"zero":false},"axis":{"values":[0,0.2,0.4,0.6,0.8,1],"tickCount":12,"format":".1f","title":"Survival probability"}},"color":{"field":"g","type":"nominal","scale":{"domain":["Low","High"],"range":["#43b3d8","#e54a33"]},"legend":{"title":"MKLN1-AS"}}}},
  {"transform":[{"filter":"datum.c===1"}],"mark":{"type":"point","shape":"M-1,0H1M0,-1V1","filled":false,"size":30,"strokeWidth":1,"opacity":1},"encoding":{"x":{"field":"t","type":"quantitative"},"y":{"field":"s","type":"quantitative"},"color":{"field":"g","type":"nominal"}}},
  {"data":{"name":"notes"},"transform":[{"filter":"datum.p==='c'"}],"mark":{"type":"text","align":"left","baseline":"alphabetic","fontSize":7.5,"lineHeight":11,"color":"#222"},"encoding":{"x":{"datum":0,"type":"quantitative"},"y":{"datum":0.131,"type":"quantitative"},"text":{"field":"note"}}}
 ]}
],"spacing":23.5,"resolve":{"scale":{"x":"independent","y":"independent","color":"independent"},"legend":{"color":"independent"}}},
{"hconcat":[
 {"width":172,"height":186,"title":"d","data":{"name":"km"},"transform":[{"filter":"datum.p==='d'"}],"layer":[
  {"mark":{"type":"line","interpolate":"step-after","strokeWidth":1.2},"encoding":{"x":{"field":"t","type":"quantitative","scale":{"domain":[-6,128],"nice":false,"zero":false},"axis":{"values":[0,30,60,90,120],"title":"Time (months)"}},"y":{"field":"s","type":"quantitative","scale":{"domain":[-0.054,1.054],"nice":false,"zero":false},"axis":{"values":[0,0.2,0.4,0.6,0.8,1],"tickCount":12,"format":".1f","title":"Survival probability"}},"color":{"field":"g","type":"nominal","scale":{"domain":["Low","High"],"range":["#43b3d8","#e54a33"]},"legend":{"title":"AL031985.3"}}}},
  {"transform":[{"filter":"datum.c===1"}],"mark":{"type":"point","shape":"M-1,0H1M0,-1V1","filled":false,"size":30,"strokeWidth":1,"opacity":1},"encoding":{"x":{"field":"t","type":"quantitative"},"y":{"field":"s","type":"quantitative"},"color":{"field":"g","type":"nominal"}}},
  {"data":{"name":"notes"},"transform":[{"filter":"datum.p==='d'"}],"mark":{"type":"text","align":"left","baseline":"alphabetic","fontSize":7.5,"lineHeight":11,"color":"#222"},"encoding":{"x":{"datum":0,"type":"quantitative"},"y":{"datum":0.131,"type":"quantitative"},"text":{"field":"note"}}}
 ]},
 {"width":172,"height":186,"title":"e","data":{"name":"km"},"transform":[{"filter":"datum.p==='e'"}],"layer":[
  {"mark":{"type":"line","interpolate":"step-after","strokeWidth":1.2},"encoding":{"x":{"field":"t","type":"quantitative","scale":{"domain":[-6,128],"nice":false,"zero":false},"axis":{"values":[0,30,60,90,120],"title":"Time (months)"}},"y":{"field":"s","type":"quantitative","scale":{"domain":[-0.054,1.054],"nice":false,"zero":false},"axis":{"values":[0,0.2,0.4,0.6,0.8,1],"tickCount":12,"format":".1f","title":"Survival probability"}},"color":{"field":"g","type":"nominal","scale":{"domain":["Low","High"],"range":["#43b3d8","#e54a33"]},"legend":{"title":"PCCA-DT"}}}},
  {"transform":[{"filter":"datum.c===1"}],"mark":{"type":"point","shape":"M-1,0H1M0,-1V1","filled":false,"size":30,"strokeWidth":1,"opacity":1},"encoding":{"x":{"field":"t","type":"quantitative"},"y":{"field":"s","type":"quantitative"},"color":{"field":"g","type":"nominal"}}},
  {"data":{"name":"notes"},"transform":[{"filter":"datum.p==='e'"}],"mark":{"type":"text","align":"left","baseline":"alphabetic","fontSize":7.5,"lineHeight":11,"color":"#222"},"encoding":{"x":{"datum":0,"type":"quantitative"},"y":{"datum":0.131,"type":"quantitative"},"text":{"field":"note"}}}
 ]},
 {"width":172,"height":186,"title":"f","data":{"name":"km"},"transform":[{"filter":"datum.p==='f'"}],"layer":[
  {"mark":{"type":"line","interpolate":"step-after","strokeWidth":1.2},"encoding":{"x":{"field":"t","type":"quantitative","scale":{"domain":[-165,3660],"nice":false,"zero":false},"axis":{"values":[0,1000,2000,3000],"format":"d","title":"Time"}},"y":{"field":"s","type":"quantitative","scale":{"domain":[-0.054,1.054],"nice":false,"zero":false},"axis":{"values":[0,0.2,0.4,0.6,0.8,1],"tickCount":12,"format":".1f","title":"Survival probability"}},"color":{"field":"g","type":"nominal","scale":{"domain":["Low","High"],"range":["#43b3d8","#e54a33"]},"legend":{"title":null}}}},
  {"transform":[{"filter":"datum.c===1"}],"mark":{"type":"point","shape":"M-1,0H1M0,-1V1","filled":false,"size":30,"strokeWidth":1,"opacity":1},"encoding":{"x":{"field":"t","type":"quantitative"},"y":{"field":"s","type":"quantitative"},"color":{"field":"g","type":"nominal"}}},
  {"data":{"name":"notes"},"transform":[{"filter":"datum.p==='f'"}],"mark":{"type":"text","align":"left","baseline":"alphabetic","fontSize":7.5,"lineHeight":11,"color":"#222"},"encoding":{"x":{"datum":-150,"type":"quantitative"},"y":{"datum":0.065,"type":"quantitative"},"text":{"field":"note"}}}
 ]}
],"spacing":23.5,"resolve":{"scale":{"x":"independent","y":"independent","color":"independent"},"legend":{"color":"independent"}}},
{"hconcat":[
 {"width":172,"height":186,"title":"g","data":{"name":"km"},"transform":[{"filter":"datum.p==='g'"}],"layer":[
  {"mark":{"type":"line","interpolate":"step-after","strokeWidth":1.2},"encoding":{"x":{"field":"t","type":"quantitative","scale":{"domain":[-6,128],"nice":false,"zero":false},"axis":{"values":[0,30,60,90,120],"title":"Time (months)"}},"y":{"field":"s","type":"quantitative","scale":{"domain":[-0.054,1.054],"nice":false,"zero":false},"axis":{"values":[0,0.2,0.4,0.6,0.8,1],"tickCount":12,"format":".1f","title":"Survival probability"}},"color":{"field":"g","type":"nominal","scale":{"domain":["Low","High"],"range":["#43b3d8","#e54a33"]},"legend":{"title":"LNCSRLR"}}}},
  {"transform":[{"filter":"datum.c===1"}],"mark":{"type":"point","shape":"M-1,0H1M0,-1V1","filled":false,"size":30,"strokeWidth":1,"opacity":1},"encoding":{"x":{"field":"t","type":"quantitative"},"y":{"field":"s","type":"quantitative"},"color":{"field":"g","type":"nominal"}}},
  {"data":{"name":"notes"},"transform":[{"filter":"datum.p==='g'"}],"mark":{"type":"text","align":"left","baseline":"alphabetic","fontSize":7.5,"lineHeight":11,"color":"#222"},"encoding":{"x":{"datum":0,"type":"quantitative"},"y":{"datum":0.131,"type":"quantitative"},"text":{"field":"note"}}}
 ]},
 {"width":172,"height":186,"title":"h","data":{"name":"km"},"transform":[{"filter":"datum.p==='h'"}],"layer":[
  {"mark":{"type":"line","interpolate":"step-after","strokeWidth":1.2},"encoding":{"x":{"field":"t","type":"quantitative","scale":{"domain":[-6,128],"nice":false,"zero":false},"axis":{"values":[0,30,60,90,120],"title":"Time (months)"}},"y":{"field":"s","type":"quantitative","scale":{"domain":[-0.054,1.054],"nice":false,"zero":false},"axis":{"values":[0,0.2,0.4,0.6,0.8,1],"tickCount":12,"format":".1f","title":"Survival probability"}},"color":{"field":"g","type":"nominal","scale":{"domain":["Low","High"],"range":["#43b3d8","#e54a33"]},"legend":{"title":"AL445228.3"}}}},
  {"transform":[{"filter":"datum.c===1"}],"mark":{"type":"point","shape":"M-1,0H1M0,-1V1","filled":false,"size":30,"strokeWidth":1,"opacity":1},"encoding":{"x":{"field":"t","type":"quantitative"},"y":{"field":"s","type":"quantitative"},"color":{"field":"g","type":"nominal"}}},
  {"data":{"name":"notes"},"transform":[{"filter":"datum.p==='h'"}],"mark":{"type":"text","align":"left","baseline":"alphabetic","fontSize":7.5,"lineHeight":11,"color":"#222"},"encoding":{"x":{"datum":0,"type":"quantitative"},"y":{"datum":0.131,"type":"quantitative"},"text":{"field":"note"}}}
 ]},
 {"width":172,"height":186,"title":"i","data":{"name":"km"},"transform":[{"filter":"datum.p==='i'"}],"layer":[
  {"mark":{"type":"line","interpolate":"step-after","strokeWidth":1.2},"encoding":{"x":{"field":"t","type":"quantitative","scale":{"domain":[-6,128],"nice":false,"zero":false},"axis":{"values":[0,30,60,90,120],"title":"Time (months)"}},"y":{"field":"s","type":"quantitative","scale":{"domain":[-0.054,1.054],"nice":false,"zero":false},"axis":{"values":[0,0.2,0.4,0.6,0.8,1],"tickCount":12,"format":".1f","title":"Survival probability"}},"color":{"field":"g","type":"nominal","scale":{"domain":["Low","High"],"range":["#43b3d8","#e54a33"]},"legend":{"title":"AC023157.2"}}}},
  {"transform":[{"filter":"datum.c===1"}],"mark":{"type":"point","shape":"M-1,0H1M0,-1V1","filled":false,"size":30,"strokeWidth":1,"opacity":1},"encoding":{"x":{"field":"t","type":"quantitative"},"y":{"field":"s","type":"quantitative"},"color":{"field":"g","type":"nominal"}}},
  {"data":{"name":"notes"},"transform":[{"filter":"datum.p==='i'"}],"mark":{"type":"text","align":"left","baseline":"alphabetic","fontSize":7.5,"lineHeight":11,"color":"#222"},"encoding":{"x":{"datum":0,"type":"quantitative"},"y":{"datum":0.131,"type":"quantitative"},"text":{"field":"note"}}}
 ]}
],"spacing":23.5,"resolve":{"scale":{"x":"independent","y":"independent","color":"independent"},"legend":{"color":"independent"}}}
 ]},
{"title":{"text":"j","offset":1,"dx":-39},
 "spacing":0,
 "resolve":{"scale":{"x":"independent","y":"independent"}},
 "hconcat":[
  {"width":46,"height":240,"data":{"values":[]},"mark":"point"},
  {"width":466,"height":240,"data":{"name":"forest"},
   "resolve":{"scale":{"y":"independent"}},
   "layer":[
    {"encoding":{"y":{"field":"name","type":"nominal","scale":{"domain":["header","AC019080.5","AP003392.4","MKLN1-AS","AL031985.3","PCCA-DT","AC007128.1","LNCSRLR","AL445228.3","AC023157.2"],"paddingInner":0,"paddingOuter":0},"axis":null}},
     "layer":[
      {"transform":[{"filter":"datum.name==='header'"}],"mark":{"type":"rule","color":"#333","strokeWidth":1.5},"encoding":{"y":{"field":"name","type":"nominal","bandPosition":0,"axis":null}}},
      {"transform":[{"filter":"datum.name==='header'"}],"mark":{"type":"rule","color":"#333","strokeWidth":1.5},"encoding":{"y":{"field":"name","type":"nominal","bandPosition":1,"axis":null}}},
      {"transform":[{"filter":"datum.name!=='header'"}],"mark":{"type":"rule","color":"#222","strokeWidth":1},"encoding":{"x":{"field":"lo","type":"quantitative","scale":{"domain":[-7.098,8.18],"nice":false,"zero":false},"axis":{"values":[1,2,3,4,5],"title":null,"labelFontSize":8,"tickSize":5,"tickWidth":1,"domainColor":"#333","domainWidth":1.5,"tickColor":"#333","labelPadding":1}},"x2":{"field":"hi"}}},
      {"transform":[{"filter":"datum.name!=='header'"}],"mark":{"type":"tick","orient":"vertical","size":7,"thickness":1,"color":"#222"},"encoding":{"x":{"field":"lo","type":"quantitative"}}},
      {"transform":[{"filter":"datum.name!=='header'"}],"mark":{"type":"tick","orient":"vertical","size":7,"thickness":1,"color":"#222"},"encoding":{"x":{"field":"hi","type":"quantitative"}}},
      {"transform":[{"filter":"datum.name!=='header'"}],"mark":{"type":"circle","size":50,"color":"#4a7dba","opacity":1},"encoding":{"x":{"field":"hr","type":"quantitative"}}},
      {"mark":{"type":"text","fontSize":10.5,"color":"#1a1a1a"},"encoding":{"x":{"datum":-5.557,"type":"quantitative"},"text":{"field":"label"}}},
      {"mark":{"type":"text","fontSize":10.5,"color":"#1a1a1a"},"encoding":{"x":{"datum":-1.623,"type":"quantitative"},"text":{"field":"ci"}}},
      {"mark":{"type":"text","fontSize":10.5,"color":"#1a1a1a"},"encoding":{"x":{"datum":7.066,"type":"quantitative"},"text":{"field":"pv"}}}
     ]},
    {"transform":[{"filter":"datum.name==='header'"}],"mark":{"type":"rule","strokeDash":[5,3],"color":"#222","strokeWidth":1},"encoding":{"x":{"datum":1,"type":"quantitative"},"y":{"datum":0,"type":"quantitative","scale":{"domain":[0,10],"nice":false,"zero":false},"axis":null},"y2":{"datum":9}}}
   ]}
 ]}
]
}
